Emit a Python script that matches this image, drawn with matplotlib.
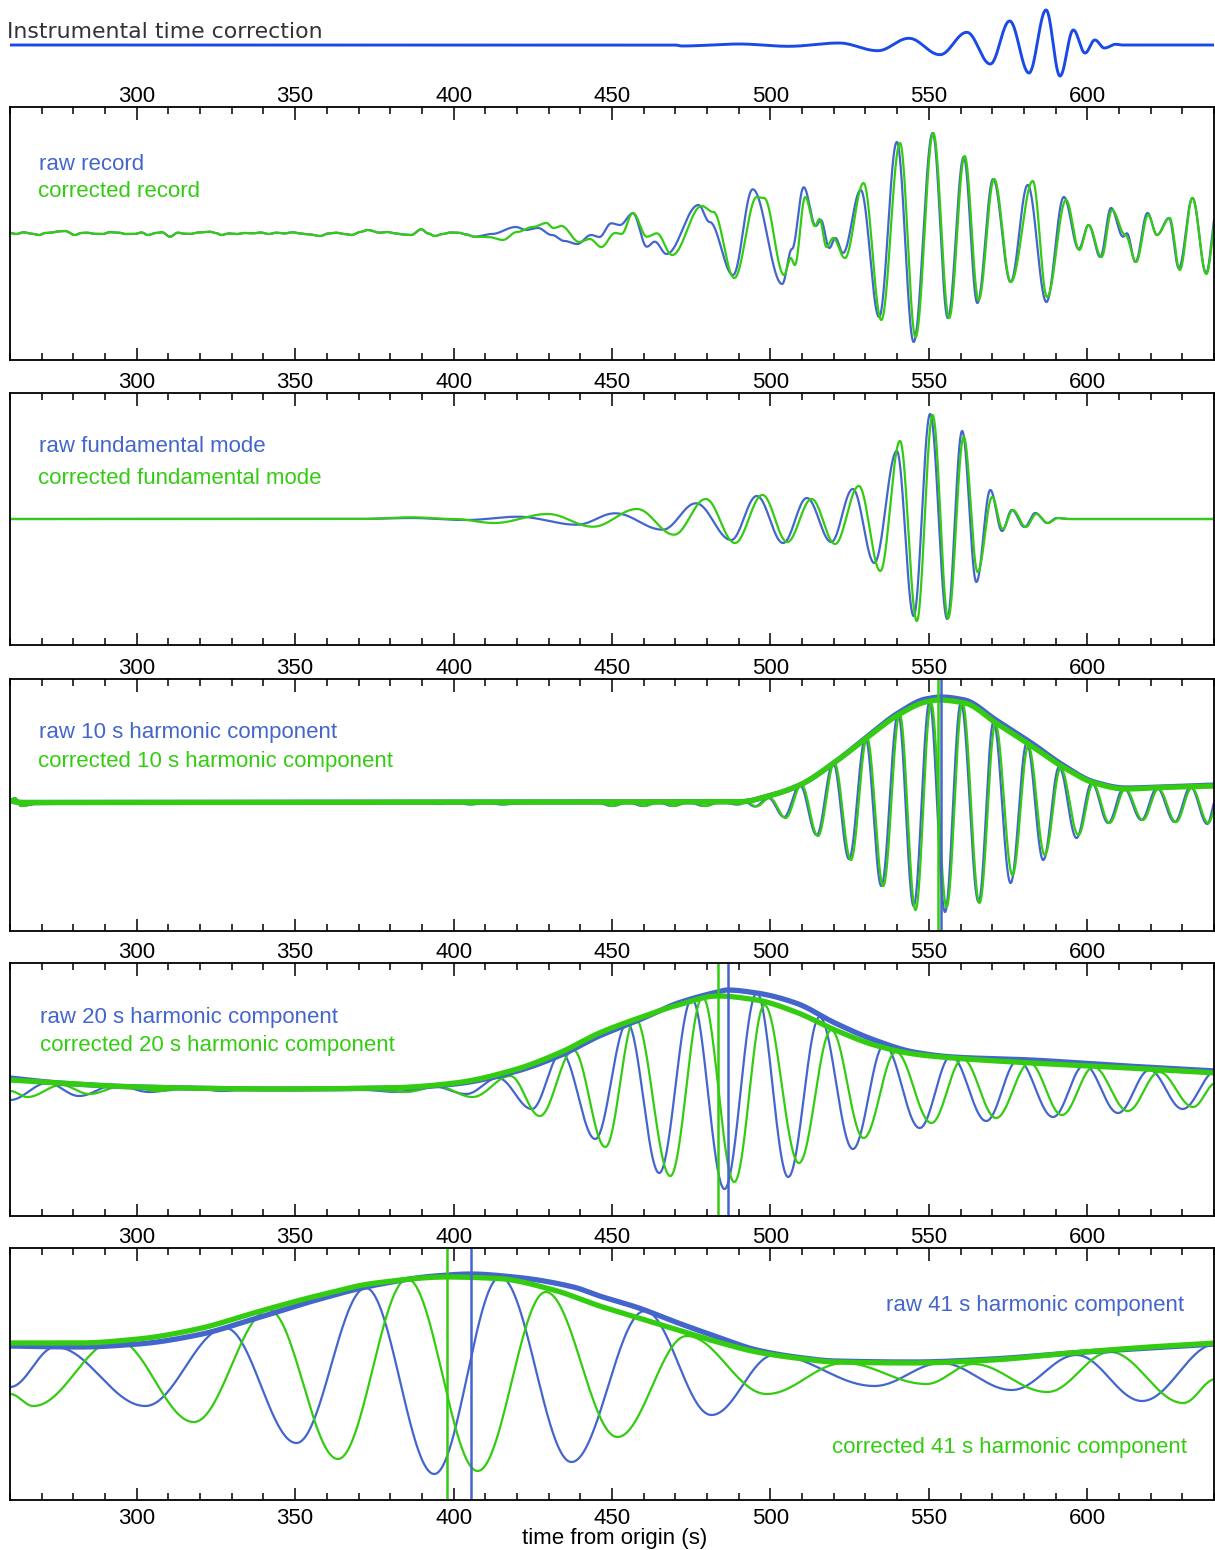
import numpy as np
import matplotlib
matplotlib.use('Agg')
import matplotlib.pyplot as plt
from matplotlib.ticker import MultipleLocator

plt.rcParams['font.family'] = ['Liberation Sans', 'DejaVu Sans']

W, H = 1215, 1550
BLUE = '#4466cc'
GREEN = '#33cc11'
TRACE_BLUE = '#1a4ae6'

# ---------------- data: (time s, amplitude) extrema ----------------
instrument_trace = [(260, 0), (470, 0), (472, -1), (490, 1), (505.7, -1.3), (521.6, 2), (533.9, -5.7),
                    (543.7, 6.7), (553.5, -9.7), (562, 12.7), (569.4, -19), (575.5, 24), (581.6, -28),
                    (587, 35), (591.4, -31), (595.6, 15), (599.3, -8), (602.4, 5), (605.4, -3),
                    (609, 0.7), (611, 0), (640, 0)]

record_noise_t = [260, 262, 264.3, 266.5, 269.3, 271, 273, 275, 277.4, 280.5, 282.5, 284.3, 286.5, 289.3,
                  291.5, 294.3, 296.5, 299.3, 301.5, 303.6, 306, 308, 310.5, 313, 315, 316.7, 319.5, 323,
                  325, 326.7, 329, 331.7, 334, 336.7, 339, 341.7, 344, 346.5, 349.2, 351.5, 354.2, 357.9,
                  360.5, 362.9, 365.5, 367.9, 370.5, 372.9, 376.7, 379, 381.6, 384, 386.6, 389.8, 392,
                  394.1, 396.5, 399, 401.6, 404, 406.6]
record_noise_a = [0, -1, 0.7, -0.5, -2, 0, 0.3, 1.5, 2, -2, 0, 0.3, -0.8, -1, 0.8, 0.3, -1, -1, 0.5, -2,
                  0, 0.7, -3.7, 0.3, -0.7, -1, 0.5, 1.3, 0, -2, -0.5, -1, 0, -0.3, 0.5, -1, 0.3, -0.5,
                  0.7, -0.5, -1.3, -3, -0.5, 0.3, -1, -2, 1, 3, 0.3, 1, -0.3, -1.5, -2, 3.7, -0.5, -3,
                  -1, 0.5, 0.3, -1.5, -3.7]

raw_record_tail = [(412, -1), (419.7, 6), (422.8, 3), (426.6, 5), (431, -2), (435, -8), (439, -11),
                   (443.4, -2), (446, -4), (449.8, 9.7), (452.5, 8), (456.6, 19.7), (461, -13.7),
                   (463.5, -8.7), (467.2, -21), (477.3, 28), (480.8, 11), (488.2, -42), (494.4, 43.7),
                   (503.7, -51), (506.8, -16), (510.5, 45.7), (514.3, 7), (515.9, 13), (518.6, -15),
                   (520.5, -5), (522.9, -20), (528.5, 43), (534.3, -84), (539.9, 91), (545.2, -109),
                   (551.2, 100), (556, -85), (561, 76), (565.3, -70), (570.3, 54), (575.8, -49),
                   (581.2, 48), (587.1, -69), (592.6, 36), (597.3, -16), (600.4, 8), (604.1, -24),
                   (607.5, 25), (611.3, -3.7), (612.5, -0.3), (615.2, -29), (619, 20), (622, -2),
                   (625.8, 15), (628.9, -35), (633.2, 35), (637.5, -40), (641, 25)]
corr_record_tail = [(411, -4), (415.5, -7), (420, 1), (425, 6), (429.3, 10), (431.5, 5), (434, 7),
                    (439.7, -9), (443, -6), (446.6, -14), (451, 0), (453, -1), (456.6, 20), (461, -3.7),
                    (464.1, -0.3), (469, -22), (478.3, 27), (482, 21), (488.6, -45), (495.7, 36),
                    (498, 35), (504.3, -42), (506.4, -25), (507.7, -32), (511, 36), (514, 7),
                    (515.5, 14), (517.7, -14), (519.8, -5), (523.5, -25), (529.4, 50), (535, -87),
                    (540.9, 90), (545.8, -104), (551.4, 100), (556.4, -85), (561.3, 77), (565.7, -67),
                    (570.6, 54), (575.9, -49), (582.8, 52), (587.3, -64), (593.3, 33), (597.5, -17),
                    (600.4, 8), (604.5, -24), (607.8, 23), (612, -2), (615.4, -29), (619.2, 18),
                    (622, -2), (626, 15), (629.2, -37), (633.2, 35), (637.6, -41), (641, 20)]

raw_fund = [(260, 0), (370, 0), (386.6, 1), (404, -1), (420.3, 2.3), (439, -5.7), (451, 5.7),
            (466, -10.7), (476.5, 15.7), (487.6, -21), (495.7, 23), (504, -24), (511.5, 21),
            (519.2, -23), (526, 30), (532.8, -44), (539.9, 68), (545.2, -97), (550.4, 105),
            (555.8, -100), (560.5, 88), (565, -63), (569.4, 29), (573.1, -12), (576.2, 9),
            (580.2, -8), (583.6, 6), (587.4, -4), (590.4, 1), (594, 0), (641, 0)]
corr_fund = [(260, 0), (370, 0), (386.6, 1.7), (400, 0), (412.9, -4), (429.7, 5), (444, -7.7),
             (457.9, 10), (469.6, -15.7), (479.6, 20), (488.8, -24), (497.5, 24), (505.3, -23),
             (513, 20), (520.4, -25), (527.9, 33), (534.7, -52), (540.9, 78), (546.2, -102),
             (551.2, 104), (556.1, -99), (561, 82), (565.4, -53), (570, 22), (573.3, -10),
             (576.5, 9), (580.6, -8), (583.9, 5), (587.6, -4), (590.8, 1), (594, 0), (641, 0)]

raw_h10 = [(260, 3), (261.5, 5), (263.5, -3), (268, -1), (300, 0), (385, 0), (390, 1), (395, -1),
           (400, 1.5), (405, -1.5), (410, 1.5), (415, -1.5), (420, 0), (445, 1), (449.8, -3),
           (454.8, 1), (459.7, -3), (464.5, 1), (469, -3), (474, 1), (478.9, -3), (484, 1),
           (489.5, -1.5), (492, 1), (495, -3.5), (499.4, 5), (504.3, -14), (509.3, 18), (514.6, -32),
           (519.8, 40), (524.8, -56), (530, 65), (535, -83), (540.3, 90), (545.2, -103), (550.2, 101),
           (555.1, -109), (560.1, 100), (565.7, -99), (570.4, 81), (575.8, -80), (580.9, 60),
           (586.1, -57), (591.1, 36), (596.6, -35), (601.4, 20), (606.6, -20), (611.5, 15),
           (617.1, -17), (622, 15), (627.6, -19), (632.6, 16), (637.9, -21), (640.6, 3)]
corr_h10 = [(260, 3), (261.5, 5), (263.5, -3), (268, -1), (300, 0), (386, 0), (391, 1), (396, -1),
            (401, 1.5), (406, -1.5), (411, 1.5), (416, -1.5), (421, 0), (445, 1), (450.3, -3),
            (455.3, 1), (460.2, -3), (465, 1), (469.5, -3), (474.5, 1), (479.4, -3), (484.5, 1),
            (490, -1.5), (492.5, 1), (495.5, -3.5), (499.8, 5), (504.8, -15), (509.8, 18), (515, -33),
            (520.2, 40), (525.4, -57), (530.5, 65), (535.6, -83), (540.8, 89), (545.8, -107),
            (550.7, 100), (555.6, -104), (560.6, 100), (566, -100), (571, 79), (576.4, -72),
            (581.4, 57), (586.6, -52), (591.6, 35), (597.2, -32), (601.8, 19), (607, -20), (612, 14),
            (617.5, -17), (622.5, 14), (628, -19), (633, 15), (638.2, -20), (640.6, -5)]
raw_env10 = [(260, 2), (264, 0.5), (400, 1), (490.7, 1.3), (499.4, 7), (509.3, 18), (520.4, 41),
             (530.4, 66), (540.3, 90), (549, 104), (553.9, 106), (561.3, 103), (571.2, 83),
             (582.4, 60), (592.3, 38), (602.2, 21), (612.1, 15), (623.3, 16), (640.6, 18)]
corr_env10 = [(260, 2), (264, 0.5), (400, 0.8), (490.7, 1.3), (499.4, 7), (509.3, 18), (520.4, 41),
              (530.4, 65), (540.3, 88), (549, 101), (552.9, 103), (561.3, 100), (571.2, 80),
              (582.4, 57), (592.3, 36), (602.2, 20), (612.1, 14), (623.3, 15.5), (640.6, 17)]
peak_h10 = {'raw': 553.9, 'corr': 552.9}

raw_h20 = [(260, -11), (271.8, 6), (281.8, -7), (293, 4), (304, -3), (316.7, 2), (326.7, -2),
           (338, 1), (350, -1), (362, 0.5), (372, -1), (381.6, -3), (394, 2.3), (404, -5),
           (414, 11), (424.7, -20), (434, 36), (444.7, -50), (454.8, 66), (464.9, -84),
           (475.2, 90), (485.5, -100), (495.7, 96), (505.6, -88), (515.5, 72), (526, -60),
           (535.9, 44), (547.1, -39), (557, 33), (568.1, -32), (578.1, 29), (589.2, -28),
           (599.1, 24), (609.7, -24), (619.6, 19), (630.1, -20), (640.6, 18)]
corr_h20 = [(260, -2), (265.5, -8), (276.2, 4), (285, -5), (295.5, 3), (307, -2), (318, 1.5),
            (330, -1), (342, 0.5), (355, -0.5), (367, 0.5), (375, -1), (385, -3), (395, 2.5),
            (406, -8), (417.9, 13), (427.2, -27), (437.8, 39), (447.9, -58), (457.3, 71),
            (468.4, -87), (478.6, 92), (488.6, -93), (498.1, 84), (509, -74), (519.2, 59),
            (529.4, -49), (539.6, 37), (550.8, -34), (560.7, 30), (571.2, -29), (581.8, 26),
            (592, -26), (602, 22), (612.8, -22), (622.7, 17), (633.4, -18), (640.6, 6)]
raw_env20 = [(260, 11), (275.5, 6), (300.5, 2), (344, 0), (381.6, 1), (400.4, 5), (419, 17),
             (434, 34), (446, 53), (458.5, 69), (470.9, 86), (483.3, 97), (486.4, 99), (495.7, 96),
             (508, 86), (520.4, 66), (532.8, 49), (545.2, 37), (557.6, 32), (582.4, 29),
             (607.2, 24), (640.6, 18)]
corr_env20 = [(260, 9), (275.5, 6), (300.5, 2), (344, 0), (381.6, 1.3), (400.4, 6), (419, 19),
              (434, 37), (446, 56), (458.5, 71), (470.9, 84), (483.3, 93), (495.7, 89), (508, 77),
              (520.4, 59), (532.8, 44), (545.2, 35), (557.6, 31), (582.4, 26), (607.2, 22),
              (640.6, 16)]
peak_h20 = {'raw': 486.5, 'corr': 483.3}

raw_h41 = [(260, -13), (274.3, 27), (302.7, -32), (328, 46), (350.4, -69), (372.3, 86),
           (393.9, -100), (414.7, 97), (437.2, -88), (460.3, 63), (481.4, -41), (501.2, 19),
           (532.8, -12), (553.9, 11), (576.2, -16), (596.6, 19), (617.3, -27), (640.6, 30)]
corr_h41 = [(260, -20), (267.4, -32), (293.6, 34), (318, -48), (341.7, 64), (363.5, -85),
            (385.4, 95), (407.6, -97), (429.1, 82), (451.7, -63), (473.6, 38), (498.8, -20),
            (523.2, 11), (549.2, -10), (564, 10), (587.4, -18), (607.2, 22), (630.3, -29),
            (640.6, -5)]
raw_env41 = [(260, 28), (281.8, 27), (300.5, 30), (319.2, 39), (338, 56), (356.7, 74), (375.4, 89),
             (394.1, 98), (405.4, 100), (419.1, 97), (437.8, 87), (446.1, 78), (458.5, 66),
             (470.9, 51), (483.3, 37), (495.7, 24), (508, 17), (520.4, 13), (545.2, 12), (570, 15),
             (594.8, 21), (619.6, 26), (640.6, 30)]
corr_env41 = [(260, 31), (281.8, 31), (300.5, 35), (319.2, 45), (338, 62), (356.7, 78), (375.4, 91),
              (397.9, 97), (414, 95.5), (431.6, 84), (446.1, 68), (458.5, 56), (470.9, 44),
              (483.3, 32), (495.7, 22), (508, 16), (520.4, 12), (545.2, 11), (570, 14), (594.8, 21),
              (619.6, 27), (640.6, 31)]
peak_h41 = {'raw': 405.5, 'corr': 398.0}

tick_major = 50
tick_minor = 10
x_range = (260, 640)
tick_values = [300, 350, 400, 450, 500, 550, 600]

# ---------------- helpers ----------------
def wave(points, step=0.04):
    tk, ak = np.array(points, float).T
    t = np.arange(tk[0], tk[-1] + step / 2, step)
    i = np.clip(np.searchsorted(tk, t, side='right') - 1, 0, len(tk) - 2)
    s = np.clip((t - tk[i]) / (tk[i + 1] - tk[i]), 0, 1)
    y = ak[i] + (ak[i + 1] - ak[i]) * (1 - np.cos(np.pi * s)) / 2
    return t, y


def pchip_slopes(x, y):
    h = np.diff(x)
    d = np.diff(y) / h
    m = np.zeros_like(y)
    for k in range(1, len(x) - 1):
        if d[k - 1] * d[k] <= 0:
            m[k] = 0.0
        else:
            w1 = 2 * h[k] + h[k - 1]
            w2 = h[k] + 2 * h[k - 1]
            m[k] = (w1 + w2) / (w1 / d[k - 1] + w2 / d[k])
    m[0] = d[0]
    m[-1] = d[-1]
    return m


def smooth(points, step=0.1):
    tk, ak = np.array(points, float).T
    m = pchip_slopes(tk, ak)
    t = np.arange(tk[0], tk[-1] + step / 2, step)
    i = np.clip(np.searchsorted(tk, t, side='right') - 1, 0, len(tk) - 2)
    h = tk[i + 1] - tk[i]
    s = np.clip((t - tk[i]) / h, 0, 1)
    h00 = 2 * s**3 - 3 * s**2 + 1
    h10 = s**3 - 2 * s**2 + s
    h01 = -2 * s**3 + 3 * s**2
    h11 = s**3 - s**2
    y = h00 * ak[i] + h10 * h * m[i] + h01 * ak[i + 1] + h11 * h * m[i + 1]
    return t, y


def px_text(x, y, s, **kw):
    fig.text(x / W, 1 - y / H, s, **kw)


fig = plt.figure(figsize=(W / 100, H / 100), dpi=100)

# top trace
ax0 = fig.add_axes([10 / W, 1 - 88 / H, 1204 / W, 88 / H])
ax0.axis('off')
ax0.set_xlim(*x_range)
ax0.set_ylim(-43, 45)
t, y = wave(instrument_trace)
ax0.plot(t, y, color=TRACE_BLUE, lw=2.1, solid_capstyle='butt')
px_text(7, 38, 'Instrumental time correction', family=['DejaVu Sans'], fontsize=15.8,
        color='#333333', va='baseline')

# panels: (top px, bottom px, baseline px)
geom = [(107, 360, 233), (393, 645, 519), (679, 931, 803), (963, 1216, 1089), (1248, 1500, 1374)]
axes = []
for k, (top, bot, base) in enumerate(geom):
    ax = fig.add_axes([10 / W, 1 - bot / H, 1204 / W, (bot - top) / H])
    ax.set_xlim(*x_range)
    ax.set_ylim(-(bot - base), base - top)
    ax.xaxis.set_major_locator(MultipleLocator(tick_major))
    ax.xaxis.set_minor_locator(MultipleLocator(tick_minor))
    ax.tick_params(axis='x', which='both', direction='in', top=True, bottom=True,
                   labeltop=True, labelbottom=False, labelsize=16, pad=0.3)
    ax.tick_params(axis='x', which='major', length=9, width=1.1)
    ax.tick_params(axis='x', which='minor', length=4.8, width=1.1)
    ax.set_yticks([])
    for sp in ax.spines.values():
        sp.set_linewidth(1.3)
    axes.append(ax)

# bottom tick labels of the last panel
sec = axes[-1].secondary_xaxis('bottom')
sec.set_xticks(tick_values)
sec.tick_params(axis='x', length=0, pad=5.6, labelsize=16)
sec.spines['bottom'].set_visible(False)

LW = 1.6
ENV = 3.8
VL = 1.8

# panel 1: record
raw_record = list(zip(record_noise_t, record_noise_a)) + raw_record_tail
corr_record = list(zip(record_noise_t, record_noise_a)) + corr_record_tail
ax = axes[0]
ax.plot(*wave(raw_record), color=BLUE, lw=LW)
ax.plot(*wave(corr_record), color=GREEN, lw=LW)

# panel 2: fundamental mode
ax = axes[1]
ax.plot(*wave(raw_fund), color=BLUE, lw=LW)
ax.plot(*wave(corr_fund), color=GREEN, lw=LW)

# panels 3-5: harmonic components with envelopes and peak markers
for ax, rw, cw, re, ce, pk in [(axes[2], raw_h10, corr_h10, raw_env10, corr_env10, peak_h10),
                               (axes[3], raw_h20, corr_h20, raw_env20, corr_env20, peak_h20),
                               (axes[4], raw_h41, corr_h41, raw_env41, corr_env41, peak_h41)]:
    ax.plot(*wave(rw), color=BLUE, lw=LW)
    ax.plot(*wave(cw), color=GREEN, lw=LW)
    ax.plot(*smooth(re), color=BLUE, lw=ENV, solid_capstyle='butt')
    ax.plot(*smooth(ce), color=GREEN, lw=ENV, solid_capstyle='butt')
    ax.axvline(pk['corr'], color=GREEN, lw=VL)
    ax.axvline(pk['raw'], color=BLUE, lw=VL)

# labels
FS = 16
px_text(39, 170, 'raw record', color=BLUE, fontsize=FS, va='baseline')
px_text(38, 197, 'corrected record', color=GREEN, fontsize=FS, va='baseline')
px_text(39, 452.5, 'raw fundamental mode', color=BLUE, fontsize=FS, va='baseline')
px_text(38, 484, 'corrected fundamental mode', color=GREEN, fontsize=FS, va='baseline')
px_text(39, 738, 'raw 10 s harmonic component', color=BLUE, fontsize=FS, va='baseline')
px_text(38, 767, 'corrected 10 s harmonic component', color=GREEN, fontsize=FS, va='baseline')
px_text(40, 1022.5, 'raw 20 s harmonic component', color=BLUE, fontsize=FS, va='baseline')
px_text(40, 1051, 'corrected 20 s harmonic component', color=GREEN, fontsize=FS, va='baseline')
px_text(1184, 1311.5, 'raw 41 s harmonic component', color=BLUE, fontsize=FS, va='baseline', ha='right')
px_text(1187, 1453, 'corrected 41 s harmonic component', color=GREEN, fontsize=FS, va='baseline', ha='right')
px_text(615, 1544, 'time from origin (s)', color='black', fontsize=FS, va='baseline', ha='center')

fig.savefig('out.png', dpi=100)
